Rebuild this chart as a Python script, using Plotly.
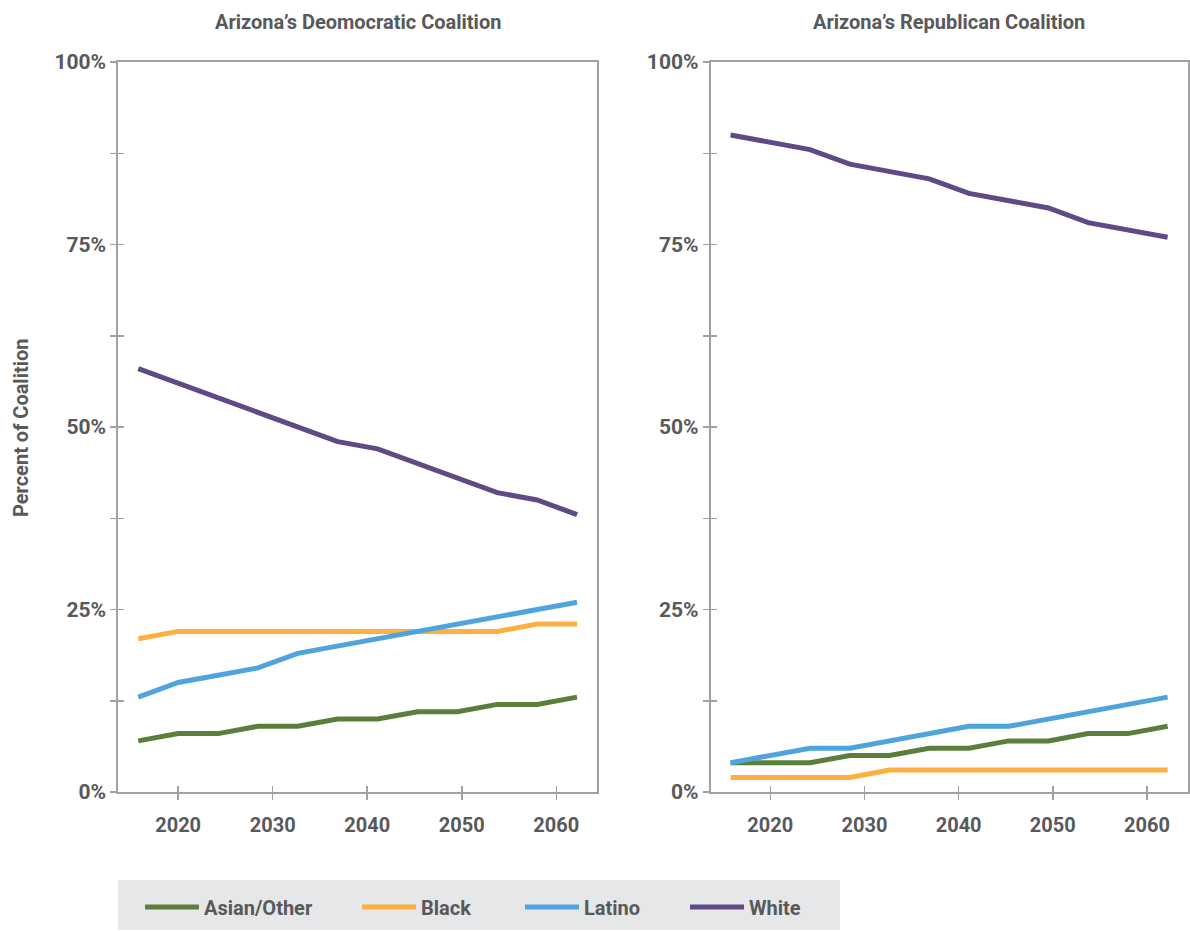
import plotly.graph_objects as go

# ---------------- data ----------------
elections = [2016, 2020, 2024, 2028, 2032, 2036, 2040, 2044, 2048, 2052, 2056, 2060]
tick_years = [2020, 2030, 2040, 2050, 2060]
pct_ticks = [0, 12.5, 25, 37.5, 50, 62.5, 75, 87.5, 100]
pct_labels = ["0%", "", "25%", "", "50%", "", "75%", "", "100%"]
groups = ["Asian/Other", "Black", "Latino", "White"]

dem_asian = [7, 8, 8, 9, 9, 10, 10, 11, 11, 12, 12, 13]
dem_black = [21, 22, 22, 22, 22, 22, 22, 22, 22, 22, 23, 23]
dem_latino = [13, 15, 16, 17, 19, 20, 21, 22, 23, 24, 25, 26]
dem_white = [58, 56, 54, 52, 50, 48, 47, 45, 43, 41, 40, 38]

rep_asian = [4, 4, 4, 5, 5, 6, 6, 7, 7, 8, 8, 9]
rep_black = [2, 2, 2, 2, 3, 3, 3, 3, 3, 3, 3, 3]
rep_latino = [4, 5, 6, 6, 7, 8, 9, 9, 10, 11, 12, 13]
rep_white = [90, 89, 88, 86, 85, 84, 82, 81, 80, 78, 77, 76]

titles = ["Arizona\u2019s Deomocratic Coalition", "Arizona\u2019s Republican Coalition"]
y_title = "Percent of Coalition"

# ---------------- styling ----------------
W, H = 1190, 931
FONT = "Roboto, Liberation Sans, sans-serif"
TXT = "#58595b"
AX = "#a0a1a4"
colors = ["#5b7f3a", "#fbb041", "#50a4dc", "#5f4a85"]
LEGEND_BG = "#e6e7e8"
X_RANGE = [2014, 2062]
TICK_SCALE = 0.948  # label spacing of the original axis relative to the data spacing
x_tickvals = [2020 + (t - 2020) * TICK_SCALE for t in tick_years]
x_ticktext = [str(t) for t in tick_years]
legend_px = [145, 362, 525, 690]  # left edge of each legend entry (px)

fig = go.Figure()

dem = [dem_asian, dem_black, dem_latino, dem_white]
rep = [rep_asian, rep_black, rep_latino, rep_white]
legend_ids = ["legend", "legend2", "legend3", "legend4"]

for name, vals, col, lg in zip(groups, dem, colors, legend_ids):
    fig.add_trace(go.Scatter(x=elections, y=vals, mode="lines", name=name,
                             line=dict(color=col, width=5), xaxis="x", yaxis="y",
                             showlegend=True, legend=lg, hoverinfo="skip"))
for name, vals, col in zip(groups, rep, colors):
    fig.add_trace(go.Scatter(x=elections, y=vals, mode="lines", name=name,
                             line=dict(color=col, width=5), xaxis="x2", yaxis="y2",
                             showlegend=False, hoverinfo="skip"))

# dummy traces so the overlay (inside-tick) axes are drawn
fig.add_trace(go.Scatter(x=[None], y=[None], xaxis="x3", yaxis="y3", showlegend=False, hoverinfo="skip"))
fig.add_trace(go.Scatter(x=[None], y=[None], xaxis="x4", yaxis="y4", showlegend=False, hoverinfo="skip"))

y_dom = [(H - 792) / H, (H - 62) / H]
x1_dom = [118.3 / W, 597.0 / W]
x2_dom = [710.7 / W, 1187.5 / W]

def xax(domain, anchor, ticks="outside", overlay=None, labels=True, line=True):
    d = dict(range=X_RANGE, tickmode="array", tickvals=x_tickvals, ticktext=x_ticktext,
             ticks=ticks, ticklen=6, tickwidth=1.5, tickcolor=AX,
             showline=line, linecolor=AX, linewidth=2, mirror=line,
             showgrid=False, zeroline=False, showticklabels=labels, automargin=False,
             tickfont=dict(family=FONT, size=20, color=TXT, weight="bold"),
             ticklabelstandoff=8, anchor=anchor, fixedrange=True)
    if overlay:
        d["overlaying"] = overlay
    else:
        d["domain"] = domain
    return d

def yax(domain, anchor, ticks="outside", overlay=None, labels=True, line=True):
    d = dict(range=[0, 100], tickmode="array", tickvals=pct_ticks, ticktext=pct_labels,
             ticks=ticks, ticklen=6, tickwidth=1.5, tickcolor=AX,
             showline=line, linecolor=AX, linewidth=2, mirror=line,
             showgrid=False, zeroline=False, showticklabels=labels, automargin=False,
             tickfont=dict(family=FONT, size=21, color=TXT, weight="bold"),
             ticklabelstandoff=0, anchor=anchor, fixedrange=True)
    if overlay:
        d["overlaying"] = overlay
    else:
        d["domain"] = domain
    return d

legends = {}
for lg, px in zip(legend_ids, legend_px):
    legends[lg] = dict(orientation="h", x=(px - 5) / W, xanchor="left", y=1 - 907 / H,
                       yanchor="middle", bgcolor="rgba(0,0,0,0)",
                       font=dict(family=FONT, size=20, color=TXT, weight="bold"),
                       itemwidth=54)

fig.update_layout(
    width=W, height=H,
    margin=dict(l=0, r=0, t=0, b=0, autoexpand=False),
    paper_bgcolor="white", plot_bgcolor="white",
    font=dict(family=FONT, color=TXT),
    xaxis=xax(x1_dom, "y"),
    yaxis=yax(y_dom, "x"),
    xaxis2=xax(x2_dom, "y2"),
    yaxis2=yax(y_dom, "x2"),
    xaxis3=xax(None, "y3", ticks="inside", overlay="x", labels=False, line=False),
    yaxis3=yax(None, "x3", ticks="inside", overlay="y", labels=False, line=False),
    xaxis4=xax(None, "y4", ticks="inside", overlay="x2", labels=False, line=False),
    yaxis4=yax(None, "x4", ticks="inside", overlay="y2", labels=False, line=False),
    shapes=[dict(type="rect", xref="paper", yref="paper",
                 x0=118 / W, x1=840 / W, y0=1 - 930 / H, y1=1 - 880 / H,
                 fillcolor=LEGEND_BG, line=dict(width=0), layer="below")],
    annotations=[
        dict(text=titles[0], xref="paper", yref="paper",
             x=(x1_dom[0] + x1_dom[1]) / 2, y=1 - 22 / H, xanchor="center", yanchor="middle",
             showarrow=False, font=dict(family=FONT, size=20, color=TXT, weight="bold")),
        dict(text=titles[1], xref="paper", yref="paper",
             x=(x2_dom[0] + x2_dom[1]) / 2, y=1 - 22 / H, xanchor="center", yanchor="middle",
             showarrow=False, font=dict(family=FONT, size=20, color=TXT, weight="bold")),
        dict(text=y_title, xref="paper", yref="paper",
             x=21 / W, y=1 - 428 / H, xanchor="center", yanchor="middle", textangle=-90,
             showarrow=False, font=dict(family=FONT, size=20, color=TXT, weight="bold")),
    ],
)
fig.update_layout(**legends)

fig.write_html("out.html",
               config={"displayModeBar": False, "staticPlot": True},
               post_script="document.body.style.margin='0px';document.body.style.overflow='hidden';")
